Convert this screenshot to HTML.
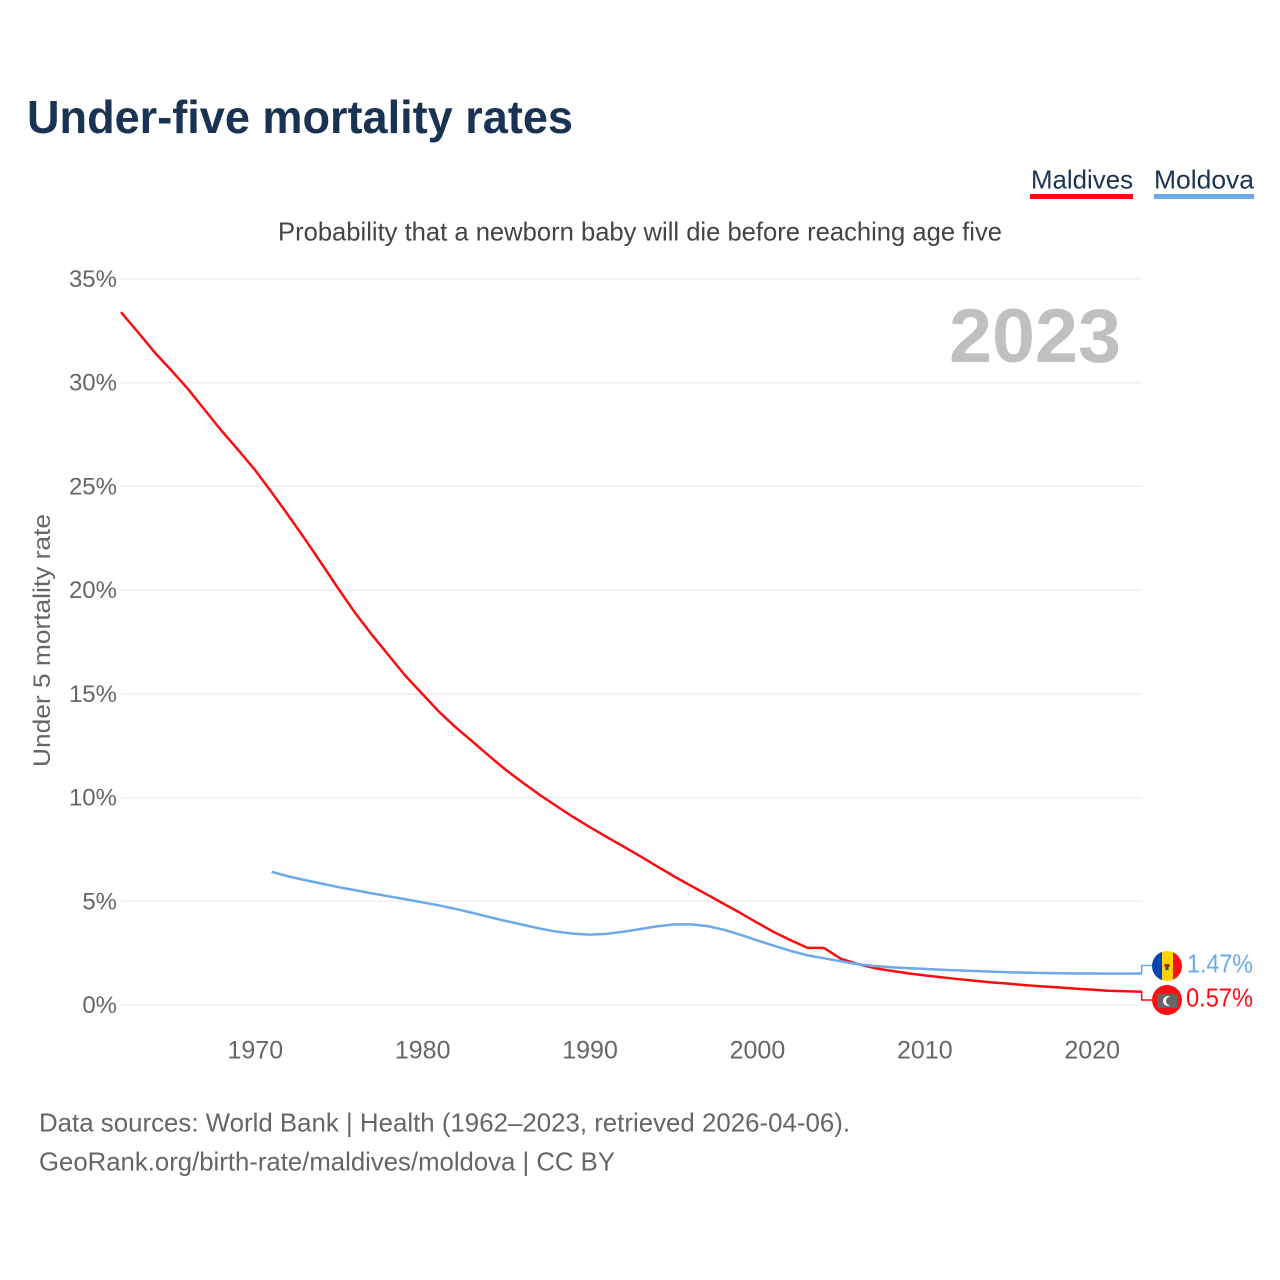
<!DOCTYPE html>
<html lang="en">
<head>
<meta charset="utf-8">
<title>Under-five mortality rates</title>
<style>
html,body{margin:0;padding:0;background:#fff;}
svg{display:block;font-family:"Liberation Sans",sans-serif;}
</style>
</head>
<body>
<svg id="chart" width="1280" height="1280" viewBox="0 0 1280 1280" xmlns="http://www.w3.org/2000/svg">
  <rect width="1280" height="1280" fill="#fff"/>
  <text x="27" y="133" font-size="46" font-weight="700" fill="#1a3352" textLength="546" lengthAdjust="spacingAndGlyphs">Under-five mortality rates</text>

  <g>
    <text x="1031" y="188.5" font-size="26" fill="#1a3352" textLength="102" lengthAdjust="spacingAndGlyphs">Maldives</text>
    <rect x="1030" y="194" width="103" height="5" fill="#ff0a0f"/>
  </g>
  <g>
    <text x="1154" y="188.5" font-size="26" fill="#1a3352" textLength="100" lengthAdjust="spacingAndGlyphs">Moldova</text>
    <rect x="1154" y="194" width="100" height="5" fill="#6aa9ec"/>
  </g>

  <text x="278" y="240.5" font-size="26" fill="#444" textLength="724" lengthAdjust="spacingAndGlyphs">Probability that a newborn baby will die before reaching age five</text>

  <g id="grid"></g>
  <g id="yticks"></g>
  <g id="xticks"></g>

  <text transform="translate(50 640.5) rotate(-90)" text-anchor="middle" font-size="24.5" fill="#666" textLength="253" lengthAdjust="spacingAndGlyphs">Under 5 mortality rate</text>

  <text x="949" y="362" font-size="76" font-weight="700" fill="#c0c0c0" textLength="172" lengthAdjust="spacingAndGlyphs">2023</text>

  <path id="line-maldives" fill="none" stroke="#ff0a0f" stroke-width="2.5" stroke-linejoin="round"/>
  <path id="line-moldova" fill="none" stroke="#6aa9ec" stroke-width="2.5" stroke-linejoin="round"/>
  <path id="connector-maldives" fill="none" stroke="#ff0a0f" stroke-width="1.5"/>
  <path id="connector-moldova" fill="none" stroke="#6aa9ec" stroke-width="1.5"/>

  <g>
    <clipPath id="clip-md"><circle cx="1167" cy="966" r="15"/></clipPath>
    <g clip-path="url(#clip-md)">
      <rect x="1152" y="951" width="10" height="30" fill="#0046ae"/>
      <rect x="1162" y="951" width="11" height="30" fill="#ffd200"/>
      <rect x="1173" y="951" width="9" height="30" fill="#ff0f14"/>
      <rect x="1164.5" y="964" width="5" height="3" fill="#b5202a"/>
      <rect x="1165.5" y="967" width="3" height="3" fill="#1f4fa0"/>
    </g>
  </g>
  <g>
    <circle cx="1167" cy="1000" r="15" fill="#ff0f14"/>
    <rect x="1157" y="994" width="20.5" height="14" fill="#666"/>
    <circle cx="1168" cy="1001" r="5" fill="#fff"/>
    <circle cx="1170.5" cy="1001" r="4.5" fill="#666"/>
  </g>

  <text id="value-moldova" x="1187" y="972.5" font-size="26" fill="#6aa9ec" textLength="66" lengthAdjust="spacingAndGlyphs"></text>
  <text id="value-maldives" x="1186" y="1006.5" font-size="26" fill="#ff0a0f" textLength="67" lengthAdjust="spacingAndGlyphs"></text>

  <text x="39" y="1131.5" font-size="26" fill="#666" textLength="811" lengthAdjust="spacingAndGlyphs">Data sources: World Bank | Health (1962–2023, retrieved 2026-04-06).</text>
  <text x="39" y="1170.5" font-size="26" fill="#666" textLength="576" lengthAdjust="spacingAndGlyphs">GeoRank.org/birth-rate/maldives/moldova | CC BY</text>
</svg>
<script>
const maldivesStartYear = 1962;
const moldovaStartYear = 1971;
const maldivesValues = [33.4,32.45,31.47,30.6,29.7,28.69,27.69,26.76,25.8,24.72,23.6,22.45,21.26,20.05,18.89,17.84,16.85,15.86,15.0,14.14,13.38,12.7,12.0,11.33,10.72,10.14,9.6,9.07,8.58,8.11,7.65,7.18,6.7,6.22,5.77,5.33,4.88,4.44,3.97,3.52,3.13,2.76,2.75,2.23,1.98,1.78,1.65,1.53,1.43,1.34,1.25,1.17,1.09,1.03,0.96,0.9,0.85,0.79,0.74,0.69,0.66,0.64];
const moldovaValues = [6.42,6.2,6.02,5.85,5.68,5.53,5.38,5.24,5.1,4.95,4.8,4.63,4.44,4.24,4.05,3.87,3.69,3.54,3.44,3.39,3.43,3.53,3.66,3.79,3.88,3.89,3.81,3.63,3.39,3.12,2.86,2.61,2.4,2.25,2.11,1.97,1.88,1.82,1.78,1.74,1.7,1.67,1.64,1.61,1.58,1.56,1.54,1.53,1.52,1.52,1.51,1.51,1.52];
const yTickValues = [0,5,10,15,20,25,30,35];
const xTickValues = [1970,1980,1990,2000,2010,2020];
const maldivesLabel = "0.57%";
const moldovaLabel = "1.47%";

const NS = "http://www.w3.org/2000/svg";
function xScale(year){ return 121 + (year - 1962) * (1142 - 121) / (2023 - 1962); }
function yScale(v){ return 1005 - v * (1005 - 279) / 35; }
function linePath(start, values){
  return values.map(function(v,i){
    return (i ? "L" : "M") + xScale(start + i).toFixed(2) + " " + yScale(v).toFixed(2);
  }).join("");
}

const gridGroup = document.getElementById("grid");
const yGroup = document.getElementById("yticks");
const xGroup = document.getElementById("xticks");

yTickValues.forEach(function(v){
  const gl = document.createElementNS(NS, "line");
  
  
  gl.setAttribute("x1", 121);
  gl.setAttribute("x2", 1142);
  gl.setAttribute("y1", yScale(v));
  gl.setAttribute("y2", yScale(v));
  gl.setAttribute("stroke", "#eeeeee");
  gl.setAttribute("stroke-width", "1.5");
  gridGroup.appendChild(gl);

  const t = document.createElementNS(NS, "text");
  
  
  t.setAttribute("x", 117);
  t.setAttribute("y", yScale(v) + 8);
  t.setAttribute("text-anchor", "end");
  t.setAttribute("font-size", "24");
  t.setAttribute("fill", "#666");
  t.textContent = v + "%";
  yGroup.appendChild(t);
});

xTickValues.forEach(function(y){
  const t = document.createElementNS(NS, "text");
  
  
  t.setAttribute("x", xScale(y) + 0.4);
  t.setAttribute("y", 1058.5);
  t.setAttribute("text-anchor", "middle");
  t.setAttribute("font-size", "25");
  t.setAttribute("fill", "#666");
  t.textContent = y;
  xGroup.appendChild(t);
});

document.getElementById("line-maldives").setAttribute("d", linePath(maldivesStartYear, maldivesValues));
document.getElementById("line-moldova").setAttribute("d", linePath(moldovaStartYear, moldovaValues));

const mdEnd = yScale(moldovaValues[moldovaValues.length - 1]);
const mvEnd = yScale(maldivesValues[maldivesValues.length - 1]);
document.getElementById("connector-moldova").setAttribute("d", "M1141.7 " + mdEnd + "V965.5H1152");
document.getElementById("connector-maldives").setAttribute("d", "M1141.7 " + mvEnd + "V1000H1152");
document.getElementById("value-moldova").textContent = moldovaLabel;
document.getElementById("value-maldives").textContent = maldivesLabel;
</script>
</body>
</html>
